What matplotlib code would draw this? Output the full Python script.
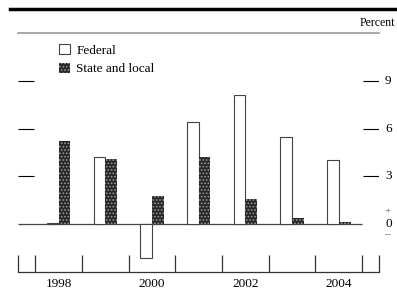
import matplotlib
matplotlib.use("Agg")
import matplotlib.pyplot as plt
from matplotlib.lines import Line2D
import numpy as np

years = ["1998", "1999", "2000", "2001", "2002", "2003", "2004"]
federal = [0.1, 4.2, -2.1, 6.4, 8.1, 5.5, 4.0]
state_local = [5.2, 4.1, 1.8, 4.2, 1.6, 0.4, 0.15]
yticks = [3, 6, 9]
year_labels = ["1998", "2000", "2002", "2004"]

plt.rcParams['font.family'] = ['Liberation Serif', 'DejaVu Serif']
plt.rcParams['hatch.linewidth'] = 0.8

W, H = 397, 290
fig = plt.figure(figsize=(W / 100, H / 100), dpi=100)
ax = fig.add_axes([18 / W, 1 - 272 / H, (379 - 18) / W, (272 - 33) / H])

x = np.arange(len(years))
bw = 0.25
xl, xr = -0.87, 6.86
ax.set_xlim(xl, xr)
ax.set_ylim(-2.97, 11.97)

b1 = ax.bar(x - bw / 2, federal, bw, color='white', edgecolor='#444444', linewidth=0.8,
            label='Federal', zorder=3)
b2 = ax.bar(x + bw / 2, state_local, bw, color='#262626', edgecolor='#9a9a9a', hatch='.....',
            linewidth=0, label='State and local', zorder=3)

# zero line
ax.hlines(0, xl, 6.5, color='#444444', linewidth=0.9, zorder=2)
# left and right tick marks
for v in yticks:
    ax.hlines(v, xl, -0.52, color='black', linewidth=0.8)
    ax.hlines(v, 6.52, xr, color='black', linewidth=0.8)
    ax.text(1.0 + 6 / (379 - 18), v, str(v), transform=ax.get_yaxis_transform(),
            ha='left', va='center', fontsize=9.5)
ax.text(1.0 + 6 / (379 - 18), 0, "0", transform=ax.get_yaxis_transform(),
        ha='left', va='center', fontsize=9.5)
ax.text(1.0 + 5 / (379 - 18), 0.8, "+", transform=ax.get_yaxis_transform(),
        ha='left', va='center', fontsize=8, color='#555555')
ax.text(1.0 + 5 / (379 - 18), -0.65, "\u2013", transform=ax.get_yaxis_transform(),
        ha='left', va='center', fontsize=8, color='#555555')

# spines
for s in ['left', 'right']:
    ax.spines[s].set_visible(False)
ax.spines['top'].set_color('#999999')
ax.spines['top'].set_linewidth(1.2)
ax.spines['bottom'].set_color('#333333')
ax.spines['bottom'].set_linewidth(0.9)
ax.set_yticks([])

ticks = [xl] + list(np.arange(-0.5, 7.0, 1.0)) + [xr]
ax.set_xticks(ticks)
ax.set_xticklabels([])
ax.tick_params(axis='x', direction='in', length=12, width=0.9, color='#333333')
ax.set_xticks([0, 2, 4, 6], minor=True)
ax.set_xticklabels(year_labels, minor=True, fontsize=9.5)
ax.tick_params(axis='x', which='minor', length=0, pad=4)

ax.legend(handles=[b1, b2], loc='upper left', bbox_to_anchor=(59 / W, 1 - 44 / H),
          bbox_transform=fig.transFigure, frameon=False, fontsize=9.5,
          handlelength=0.8, handleheight=0.8, handletextpad=0.5, labelspacing=0.45,
          borderpad=0, borderaxespad=0)

fig.text(395 / W, 1 - 23 / H, "Percent", ha='right', va='center', fontsize=8.5)
fig.add_artist(Line2D([10 / W, 1.0], [1 - 8.5 / H, 1 - 8.5 / H], color='black', linewidth=2.5))

fig.savefig("out.png", dpi=100)
